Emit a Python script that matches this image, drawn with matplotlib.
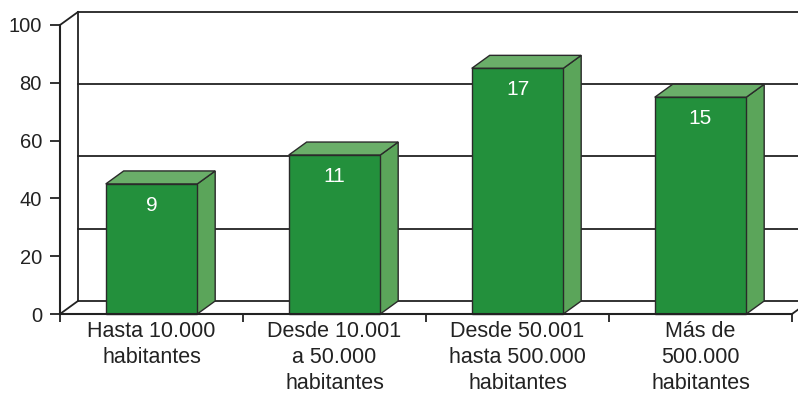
import matplotlib

matplotlib.use("Agg")
import matplotlib.pyplot as plt
from matplotlib.patches import Polygon, Rectangle

plt.rcParams["font.family"] = ["Liberation Sans", "DejaVu Sans"]

# datos
categorias = [
    "Hasta 10.000\nhabitantes",
    "Desde 10.001\na 50.000\nhabitantes",
    "Desde 50.001\nhasta 500.000\nhabitantes",
    "Más de\n500.000\nhabitantes",
]
porcentaje = [45, 55, 85, 75]
municipios = [9, 11, 17, 15]
ticks_y = [0, 20, 40, 60, 80, 100]
rejilla = [25, 50, 75]

VERDE = "#23903c"
LATERAL = "#5ba55a"
TAPA = "#6aae69"
BORDE = "#2a2a2a"
LINEA = "#222222"

# desplazamiento de profundidad (efecto 3D) en unidades de datos
DX = 0.098
DY = 4.5

fig = plt.figure(figsize=(7.98, 3.95), dpi=100)
ax = fig.add_axes([60 / 798, 81 / 395, 732 / 798, 289 / 395])
ax.set_xlim(0, len(categorias))
ax.set_ylim(0, 100)

n = len(categorias)

# pared de fondo y suelo
ax.plot([DX, DX], [DY, 100 + DY], color=LINEA, lw=1.3, clip_on=False, zorder=1)
ax.plot([DX, n + DX + 0.2], [100 + DY, 100 + DY], color=LINEA, lw=1.3, clip_on=False, zorder=1)
ax.plot([DX, n + DX + 0.2], [DY, DY], color=LINEA, lw=1.3, clip_on=False, zorder=1)
for g in rejilla:
    ax.plot([DX, n + DX + 0.2], [g + DY, g + DY], color=LINEA, lw=1.3, clip_on=False, zorder=1)
ax.plot([0, DX], [100, 100 + DY], color=LINEA, lw=1.3, clip_on=False, zorder=1)
ax.plot([0, DX], [0, DY], color=LINEA, lw=1.3, clip_on=False, zorder=1)
ax.plot([n, n + DX], [0, DY], color=LINEA, lw=1.3, clip_on=False, zorder=1)

# barras 3D
for i, (v, m) in enumerate(zip(porcentaje, municipios)):
    x0 = i + 0.25
    x1 = i + 0.75
    lado = Polygon([(x1, 0), (x1 + DX, DY), (x1 + DX, v + DY), (x1, v)],
                   closed=True, facecolor=LATERAL, edgecolor=BORDE, lw=1.0,
                   clip_on=False, zorder=3)
    tapa = Polygon([(x0, v), (x0 + DX, v + DY), (x1 + DX, v + DY), (x1, v)],
                   closed=True, facecolor=TAPA, edgecolor=BORDE, lw=1.0,
                   clip_on=False, zorder=3)
    frente = Rectangle((x0, 0), x1 - x0, v, facecolor=VERDE, edgecolor=BORDE,
                       lw=1.0, clip_on=False, zorder=4)
    ax.add_patch(lado)
    ax.add_patch(tapa)
    ax.add_patch(frente)
    ax.text((x0 + x1) / 2, v - 4.2, str(m), ha="center", va="top",
            color="white", fontsize=15, zorder=5)

# ejes
for s in ["top", "right"]:
    ax.spines[s].set_visible(False)
for s in ["left", "bottom"]:
    ax.spines[s].set_color(LINEA)
    ax.spines[s].set_linewidth(1.5)
    ax.spines[s].set_zorder(6)

ax.set_yticks(ticks_y)
ax.set_yticklabels([str(t) for t in ticks_y])
ax.tick_params(axis="y", length=7, width=1.3, color=LINEA, pad=6,
               labelsize=14.5, labelcolor="#222222")

ax.set_xticks(range(n + 1))
ax.set_xticklabels([""] * (n + 1))
ax.tick_params(axis="x", which="major", length=6, width=1.3, color=LINEA)
ax.set_xticks([i + 0.5 for i in range(n)], minor=True)
ax.set_xticklabels(categorias, minor=True, fontsize=15.5, color="#222222",
                   linespacing=1.3)
ax.tick_params(axis="x", which="minor", length=0, pad=5)

fig.savefig("out.png", dpi=100, facecolor="white")
